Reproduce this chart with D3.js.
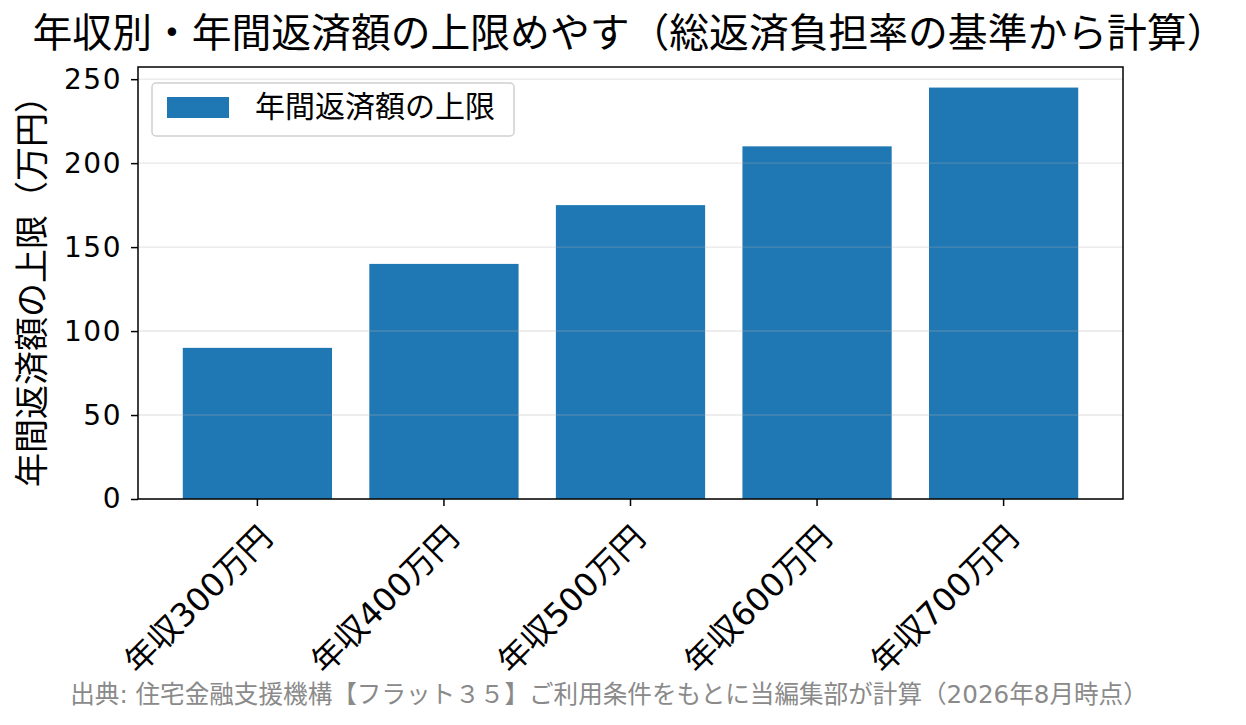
<!DOCTYPE html>
<html>
<head>
<meta charset="utf-8">
<script src="https://cdn.jsdelivr.net/npm/d3@7"></script>
<style>
  body { margin: 0; background: #fff; }
  svg { display: block; font-family: "DejaVu Sans", "Noto Sans CJK JP", sans-serif; }
</style>
</head>
<body>
<svg id="chart" width="1246" height="725"></svg>
<script>
// Data
const categories = ["年収300万円", "年収400万円", "年収500万円", "年収600万円", "年収700万円"];
const repayLimit = [90, 140, 175, 210, 245];
const yTicks = [0, 50, 100, 150, 200, 250];
const yMax = 257.25;

const titleText = "年収別・年間返済額の上限めやす（総返済負担率の基準から計算）";
const yLabelText = "年間返済額の上限（万円）";
const legendText = "年間返済額の上限";
const sourceText = "出典: 住宅金融支援機構【フラット３５】ご利用条件をもとに当編集部が計算（2026年8月時点）";

const svg = d3.select("#chart");
const plot = { left: 138, right: 1123, top: 67, bottom: 499 };
const barColor = "#1f77b4";
const cjk = "'Noto Sans CJK JP', sans-serif";

// Scales
const x = d3.scaleBand()
  .domain(categories)
  .range([plot.left, plot.right])
  .paddingInner(0.2)
  .paddingOuter(0.24);

const y = d3.scaleLinear()
  .domain([0, yMax])
  .range([plot.bottom, plot.top]);

// Bars
svg.append("g")
  .selectAll("rect")
  .data(categories)
  .join("rect")
  .attr("x", d => x(d))
  .attr("width", x.bandwidth())
  .attr("y", (d, i) => y(repayLimit[i]))
  .attr("height", (d, i) => y(0) - y(repayLimit[i]))
  .attr("fill", barColor);

// Grid (drawn over bars, like the original)
svg.append("g")
  .selectAll("line")
  .data(yTicks)
  .join("line")
  .attr("x1", plot.left)
  .attr("x2", plot.right)
  .attr("y1", d => y(d))
  .attr("y2", d => y(d))
  .attr("stroke", "#b0b0b0")
  .attr("stroke-opacity", 0.3)
  .attr("stroke-width", 1.4);

// Axes
const yAxis = svg.append("g")
  .attr("transform", `translate(${plot.left},0)`)
  .call(d3.axisLeft(y).tickValues(yTicks).tickSize(7).tickPadding(9));

const xAxis = svg.append("g")
  .attr("transform", `translate(0,${plot.bottom})`)
  .call(d3.axisBottom(x).tickSize(7).tickFormat(() => ""));

[yAxis, xAxis].forEach(g => {
  g.select(".domain").remove();
  g.selectAll(".tick line").attr("stroke", "#000").attr("stroke-width", 1.5);
});

yAxis.selectAll(".tick text")
  .attr("font-size", 28)
  .attr("letter-spacing", 1.5)
  .attr("fill", "#000")
  .attr("font-family", "'DejaVu Sans', sans-serif");

// Rotated x tick labels
svg.append("g")
  .selectAll("text")
  .data(categories)
  .join("text")
  .attr("transform", d => `translate(${x(d) + x.bandwidth() / 2 + 9},${plot.bottom + 33}) rotate(-45)`)
  .attr("text-anchor", "end")
  .attr("dominant-baseline", "central")
  .attr("font-size", 32.5)
  .attr("fill", "#000")
  .text(d => d);

// Spines
svg.append("rect")
  .attr("x", plot.left)
  .attr("y", plot.top)
  .attr("width", plot.right - plot.left)
  .attr("height", plot.bottom - plot.top)
  .attr("fill", "none")
  .attr("stroke", "#000")
  .attr("stroke-width", 1.5);

// Legend
const legend = svg.append("g").attr("transform", "translate(152,83)");
legend.append("rect")
  .attr("width", 362).attr("height", 53)
  .attr("rx", 4)
  .attr("fill", "#fff").attr("fill-opacity", 0.8)
  .attr("stroke", "#d0d0d0").attr("stroke-width", 1.5);
legend.append("rect")
  .attr("x", 15).attr("y", 14)
  .attr("width", 62).attr("height", 21)
  .attr("fill", barColor);
legend.append("text")
  .attr("x", 103).attr("y", 34)
  .attr("font-size", 30)
  .attr("font-family", cjk)
  .attr("fill", "#000")
  .text(legendText);

// Title
svg.append("text")
  .attr("x", (plot.left + plot.right) / 2 - 1)
  .attr("y", 47)
  .attr("text-anchor", "middle")
  .attr("font-size", 39.8)
  .attr("font-family", cjk)
  .attr("fill", "#000")
  .text(titleText);

// Y label
svg.append("text")
  .attr("transform", `translate(29,${(plot.top + plot.bottom) / 2}) rotate(-90)`)
  .attr("text-anchor", "middle")
  .attr("dominant-baseline", "central")
  .attr("font-size", 34)
  .attr("font-family", cjk)
  .attr("fill", "#000")
  .text(yLabelText);

// Source note
svg.append("text")
  .attr("x", 609)
  .attr("y", 703)
  .attr("text-anchor", "middle")
  .attr("font-size", 24.6)
  .attr("fill", "#8a8a8a")
  .text(sourceText);
</script>
</body>
</html>
